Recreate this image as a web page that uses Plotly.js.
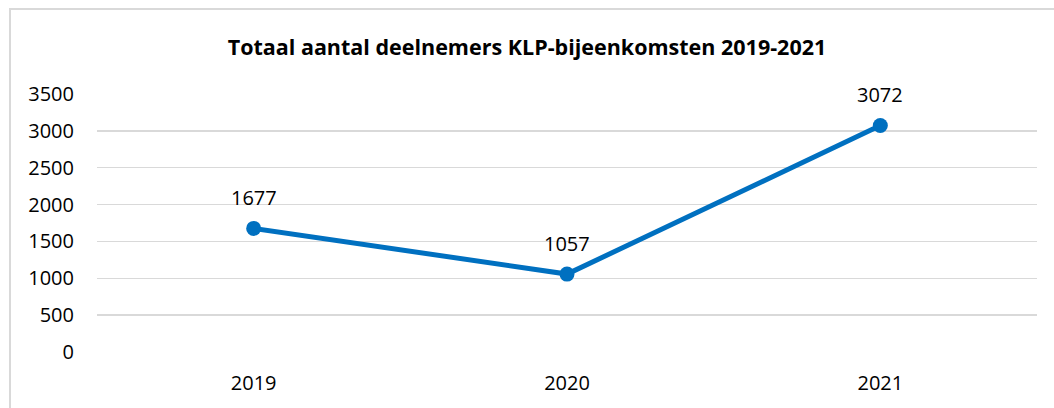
<!DOCTYPE html>
<html>
<head>
<meta charset="utf-8">
<script src="https://cdn.plot.ly/plotly-3.0.1.min.js"></script>
<style>
html,body{margin:0;padding:0;background:#fff;}
#frame{position:absolute;left:9px;top:8px;width:1100px;height:500px;border-left:2px solid #d9d9d9;border-top:2px solid #d9d9d9;box-sizing:border-box;pointer-events:none;}
#chart{position:absolute;left:0;top:0;width:1054px;height:408px;}
</style>
</head>
<body>
<div id="chart"></div>
<div id="frame"></div>
<script>
const years = ['2019', '2020', '2021'];
const participants = [1677, 1057, 3072];
const yTicks = [0, 500, 1000, 1500, 2000, 2500, 3000, 3500];
const chartTitle = 'Totaal aantal deelnemers KLP-bijeenkomsten 2019-2021';

const FONT = 'Open Sans, Noto Sans, sans-serif';

const trace = {
  x: years,
  y: participants,
  type: 'scatter',
  mode: 'lines+markers',
  line: {color: '#0070C0', width: 5},
  marker: {color: '#0070C0', size: 15},
  hoverinfo: 'x+y'
};

const annotations = years.map((yr, i) => ({
  x: i, y: participants[i], xref: 'x', yref: 'y',
  text: String(participants[i]), showarrow: false,
  yshift: 31, font: {family: FONT, size: 20, color: '#000'}
}));

const layout = {
  width: 1054, height: 408,
  margin: {l: 97, r: 17, t: 94, b: 56},
  paper_bgcolor: 'rgba(0,0,0,0)', plot_bgcolor: 'rgba(0,0,0,0)',
  showlegend: false,
  title: {
    text: '<b>' + chartTitle + '</b>',
    font: {family: FONT, size: 21.5, color: '#000'},
    x: 0.5, xanchor: 'center', y: 1 - 47/408, yanchor: 'middle'
  },
  xaxis: {
    type: 'category', range: [-0.5, 2.5],
    showgrid: false, zeroline: false, showline: false, ticks: '',
    tickfont: {family: FONT, size: 20, color: '#000'},
    ticklabelstandoff: 17
  },
  yaxis: {
    range: [0, 3500], tickvals: yTicks, ticktext: yTicks.map(String),
    showgrid: true, gridcolor: '#d9d9d9', gridwidth: 1.5,
    zeroline: false, showline: false, ticks: '',
    tickfont: {family: FONT, size: 20, color: '#000'},
    ticklabelstandoff: 22
  },
  annotations: annotations
};

Plotly.newPlot('chart', [trace], layout, {displayModeBar: false, staticPlot: true});
</script>
</body>
</html>
